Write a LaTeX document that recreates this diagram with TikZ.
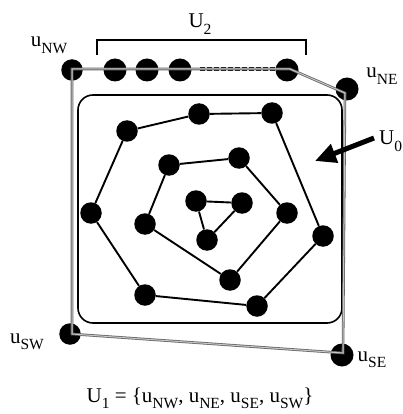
\documentclass[tikz,border=0pt]{standalone}
\usepackage{fontspec}
\setmainfont{Liberation Serif}
\usetikzlibrary{arrows.meta}
% lowered, smaller subscript in text
\newcommand\lowsub[1]{\raisebox{-6.5pt}{\fontsize{15.5}{15.5}\selectfont #1}}

\begin{document}
\begin{tikzpicture}[x=1pt,y=-1pt,
  dot/.style={circle,fill=black,inner sep=0pt,minimum size=21.5pt},
  bigdot/.style={dot,minimum size=23pt},
  edge/.style={line width=1.9pt},
  hull/.style={draw=black!60,double=gray!45,double distance=1pt,line width=0.8pt},
  lab/.style={font=\fontsize{21}{23}\selectfont,inner sep=0pt,anchor=base}]
\useasboundingbox (0,0) rectangle (403,414);

% region U_0
\draw[line width=1.6pt,rounded corners=15pt] (78,95) rectangle (342,323);

% outer ring
\node[dot] (o1) at (127,131) {};
\node[dot] (o2) at (199,114) {};
\node[dot] (o3) at (272,113) {};
\node[dot] (o4) at (323,236) {};
\node[dot] (o5) at (257,306) {};
\node[dot] (o6) at (145,295) {};
\node[dot] (o7) at (91,213) {};
% middle ring
\node[dot] (m1) at (169,165) {};
\node[dot] (m2) at (239,158) {};
\node[dot] (m3) at (287,213) {};
\node[dot] (m4) at (230,280) {};
\node[dot] (m5) at (145,224) {};
% inner triangle
\node[dot] (t1) at (196,201) {};
\node[dot] (t2) at (242,203) {};
\node[dot] (t3) at (207,240) {};

\draw[edge] (o1) -- (o2) -- (o3) -- (o4) -- (o5) -- (o6) -- (o7) -- (o1);
\draw[edge] (m1) -- (m2) -- (m3) -- (m4) -- (m5) -- (m1);
\draw[edge] (t1) -- (t2) -- (t3) -- (t1);

% U_1 corners and U_2 row
\node[dot] (nw) at (72,70) {};
\node[bigdot] (ne) at (347,89) {};
\node[bigdot] (se) at (342,355) {};
\node[dot] (sw) at (70,334) {};
\node[bigdot] (a1) at (115,70) {};
\node[bigdot] (a2) at (147,70) {};
\node[bigdot] (a3) at (180,70) {};
\node[bigdot] (a4) at (287,70) {};
\coordinate (ds) at (200,69);
\coordinate (de) at (275,69);
\draw[line width=3.5pt,dash pattern=on 5pt off 2pt] (ds) -- (de);

% hull of U_1
\coordinate (hnw) at (72,69);
\coordinate (hn) at (290,69);
\coordinate (hne) at (345,93);
\coordinate (hse) at (343,353);
\coordinate (hsw) at (72,334);
\draw[hull] (hnw) -- (hn) -- (hne) -- (hse) -- (hsw) -- cycle;

% bracket over U_2
\coordinate (b1) at (97,55);
\coordinate (b2) at (97,40);
\coordinate (b3) at (306,40);
\coordinate (b4) at (306,55);
\draw[line width=2.2pt] (b1) -- (b2) -- (b3) -- (b4);

% labels
\node[lab] (lu2) at (200,28) {U\lowsub{2}};
\node[lab] (lnw) at (49,47) {u\lowsub{NW}};
\node[lab] (lne) at (382,78) {u\lowsub{NE}};
\node[lab] (lsw) at (27,343) {u\lowsub{SW}};
\node[lab] (lse) at (372,361) {u\lowsub{SE}};
\node[lab,anchor=base west] (lu0) at (379,145) {U\lowsub{0}};
\node[lab] (lu1) at (200,402) {U\lowsub{1} = \{u\lowsub{NW}, u\lowsub{NE}, u\lowsub{SE}, u\lowsub{SW}\}};

% arrow pointing at U_0
\coordinate (atail) at (374,138);
\coordinate (atip) at (315,161);
\draw[line width=5pt,-{Triangle[length=21pt,width=19pt]}] (atail) -- (atip);
\end{tikzpicture}
\end{document}
